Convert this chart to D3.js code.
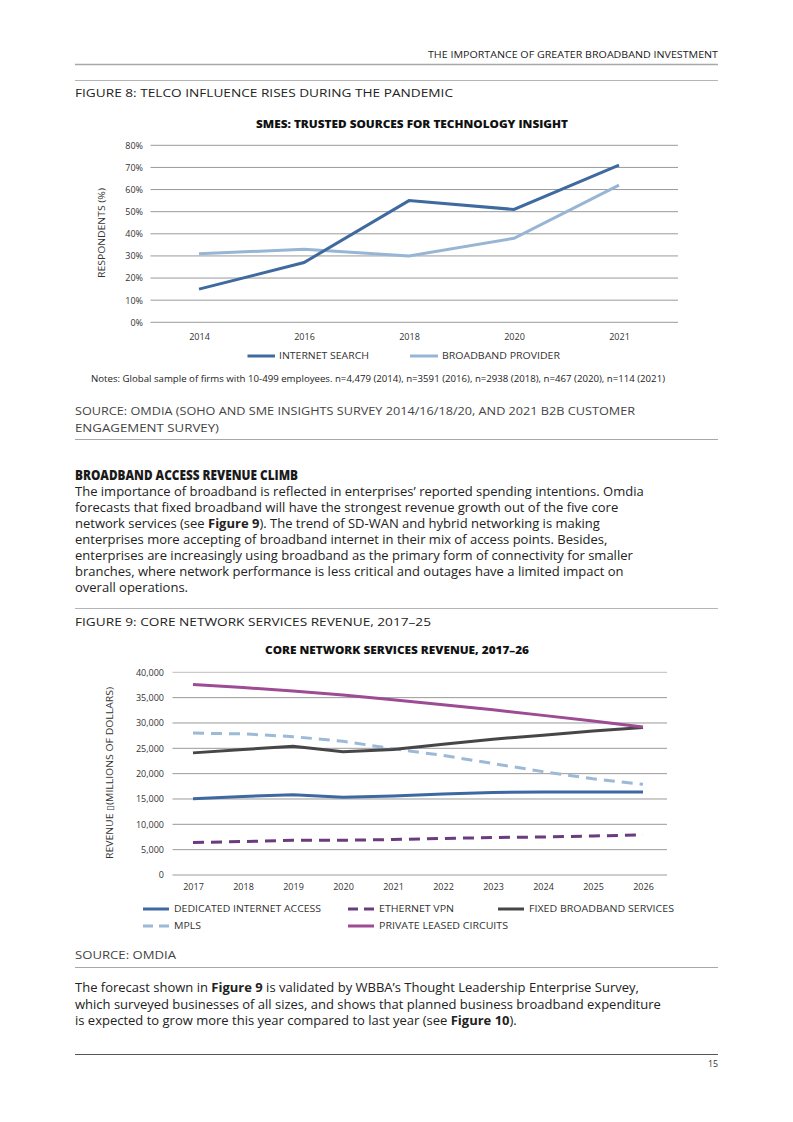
<!DOCTYPE html>
<html><head><meta charset="utf-8">
<script src="https://cdn.jsdelivr.net/npm/d3@7"></script>
<style>
html,body{margin:0;padding:0;background:#fff;}
svg{display:block;}
text{font-family:"Open Sans",sans-serif;}
</style></head>
<body>
<svg id="page" width="793" height="1122"></svg>
<script>
// ---------- DATA ----------
const fig8Years = ["2014","2016","2018","2020","2021"];
const internetSearch = [15, 27, 55, 51, 71];
const broadbandProvider = [31, 33, 30, 38, 62];
const fig8Ticks = [0,10,20,30,40,50,60,70,80];

const fig9Years = ["2017","2018","2019","2020","2021","2022","2023","2024","2025","2026"];
const dedicatedInternet = [15050, 15500, 15850, 15350, 15600, 16000, 16300, 16400, 16400, 16400];
const ethernetVPN = [6400, 6600, 6850, 6850, 7000, 7200, 7400, 7500, 7700, 7900];
const fixedBroadband = [24100, 24750, 25400, 24300, 24750, 25800, 26800, 27600, 28400, 29100];
const mpls = [28000, 27850, 27300, 26400, 24900, 23600, 22000, 20400, 19000, 17900];
const privateLeased = [37600, 37000, 36300, 35500, 34600, 33600, 32600, 31500, 30400, 29200];
const fig9Ticks = [0,5000,10000,15000,20000,25000,30000,35000,40000];

const para1 = [
  [["The importance of broadband is reflected in enterprises’ reported spending intentions. Omdia",false]],
  [["forecasts that fixed broadband will have the strongest revenue growth out of the five core",false]],
  [["network services (see ",false],["Figure 9",true],["). The trend of SD-WAN and hybrid networking is making",false]],
  [["enterprises more accepting of broadband internet in their mix of access points. Besides,",false]],
  [["enterprises are increasingly using broadband as the primary form of connectivity for smaller",false]],
  [["branches, where network performance is less critical and outages have a limited impact on",false]],
  [["overall operations.",false]]
];
const para2 = [
  [["The forecast shown in ",false],["Figure 9",true],[" is validated by WBBA’s Thought Leadership Enterprise Survey,",false]],
  [["which surveyed businesses of all sizes, and shows that planned business broadband expenditure",false]],
  [["is expected to grow more this year compared to last year (see ",false],["Figure 10",true],[").",false]]
];

// ---------- DRAW ----------
const svg = d3.select("#page");
const txt = "#222";
const L = 75, R = 718;

function rule(y, color, w){ svg.append("line").attr("x1",L).attr("x2",R).attr("y1",y).attr("y2",y).attr("stroke",color).attr("stroke-width",w); }
function label(x,y,s,size,opts={}){
  const t = svg.append("text").attr("x",x).attr("y",y).attr("font-size",size).attr("fill",opts.fill||txt).text(s);
  if(opts.anchor) t.attr("text-anchor",opts.anchor);
  if(opts.weight) t.attr("font-weight",opts.weight);
  if(opts.len) t.attr("textLength",opts.len).attr("lengthAdjust","spacingAndGlyphs");
  return t;
}
function para(lines, y0, lh){
  lines.forEach((ln,i)=>{
    const t = svg.append("text").attr("x",L).attr("y",y0+i*lh).attr("font-size",13).attr("fill",txt);
    ln.forEach(([s,b])=>{ t.append("tspan").attr("font-weight",b?700:400).text(s); });
  });
}

// header
label(R,58,"THE IMPORTANCE OF GREATER BROADBAND INVESTMENT",8.8,{anchor:"end",len:290});
rule(64.5,"#a8a8a8",1.6);
rule(80.5,"#b5b5b5",1);
label(L,97,"FIGURE 8: TELCO INFLUENCE RISES DURING THE PANDEMIC",11.2,{len:378});

// ----- Figure 8 chart -----
{
  const x = d3.scalePoint().domain(fig8Years).range([146.5,671.5]).padding(0.5);
  const y = d3.scaleLinear().domain([0,80]).range([322.3,145.3]);
  const g = svg.append("g");
  g.selectAll("line.grid").data(fig8Ticks).join("line")
    .attr("x1",150.5).attr("x2",678).attr("y1",d=>y(d)).attr("y2",d=>y(d))
    .attr("stroke","#9a9a9a").attr("stroke-width",1);
  const ya = d3.axisLeft(y).tickValues(fig8Ticks).tickFormat(d=>d+"%").tickSize(0).tickPadding(0);
  const yg = g.append("g").attr("transform","translate(143,0)").call(ya);
  yg.select(".domain").remove();
  yg.selectAll("text").attr("font-size",9).attr("fill","#333").attr("font-family","Open Sans").attr("dy","0.32em");
  const xa = d3.axisBottom(x).tickSize(0).tickPadding(0);
  const xg = g.append("g").attr("transform","translate(0,334)").call(xa);
  xg.select(".domain").remove();
  xg.selectAll("text").attr("font-size",9).attr("fill","#333").attr("font-family","Open Sans");
  const line = d3.line().x((d,i)=>x(fig8Years[i])).y(d=>y(d));
  g.append("path").datum(broadbandProvider).attr("d",line).attr("fill","none").attr("stroke","#97b5d4").attr("stroke-width",3);
  g.append("path").datum(internetSearch).attr("d",line).attr("fill","none").attr("stroke","#3f6a9f").attr("stroke-width",3);
  label(412,127.5,"SMES: TRUSTED SOURCES FOR TECHNOLOGY INSIGHT",9.6,{anchor:"middle",weight:800,len:312,fill:"#111"});
  svg.append("text").attr("transform","translate(105,233) rotate(-90)").attr("text-anchor","middle")
    .attr("font-size",9).attr("fill","#333").attr("textLength",90).attr("lengthAdjust","spacingAndGlyphs").text("RESPONDENTS (%)");
  // legend
  g.append("line").attr("x1",247.5).attr("x2",275).attr("y1",356).attr("y2",356).attr("stroke","#3f6a9f").attr("stroke-width",3);
  label(279,359.2,"INTERNET SEARCH",9,{fill:"#333",len:90});
  g.append("line").attr("x1",410).attr("x2",438).attr("y1",356).attr("y2",356).attr("stroke","#97b5d4").attr("stroke-width",3);
  label(442,359.2,"BROADBAND PROVIDER",9,{fill:"#333",len:118});
  label(91,382,"Notes: Global sample of firms with 10-499 employees. n=4,479 (2014), n=3591 (2016), n=2938 (2018), n=467 (2020), n=114 (2021)",8.2,{fill:"#222",len:574});
}

label(L,415,"SOURCE: OMDIA (SOHO AND SME INSIGHTS SURVEY 2014/16/18/20, AND 2021 B2B CUSTOMER",11.2,{fill:"#444",len:560});
label(L,432,"ENGAGEMENT SURVEY)",11.2,{fill:"#444",len:144});
rule(439.5,"#a8a8a8",1);

label(L,480,"BROADBAND ACCESS REVENUE CLIMB",13.5,{weight:800,fill:"#1a1a1a",len:223});
para(para1,496,16);
rule(608.5,"#b5b5b5",1);
label(L,626,"FIGURE 9: CORE NETWORK SERVICES REVENUE, 2017–25",11.2,{len:356});

// ----- Figure 9 chart -----
{
  const x = d3.scalePoint().domain(fig9Years).range([168,668]).padding(0.5);
  const y = d3.scaleLinear().domain([0,40000]).range([875,672.3]);
  const g = svg.append("g");
  g.selectAll("line.grid").data(fig9Ticks).join("line")
    .attr("x1",172.5).attr("x2",667).attr("y1",d=>y(d)).attr("y2",d=>y(d))
    .attr("stroke",d=>d===40000?"#bdbdbd":"#9a9a9a").attr("stroke-width",1);
  const ya = d3.axisLeft(y).tickValues(fig9Ticks).tickFormat(d3.format(",")).tickSize(0).tickPadding(0);
  const yg = g.append("g").attr("transform","translate(164,0)").call(ya);
  yg.select(".domain").remove();
  yg.selectAll("text").attr("font-size",9).attr("fill","#333").attr("font-family","Open Sans").attr("dy","0.32em");
  const xa = d3.axisBottom(x).tickSize(0).tickPadding(0);
  const xg = g.append("g").attr("transform","translate(0,884)").call(xa);
  xg.select(".domain").remove();
  xg.selectAll("text").attr("font-size",9).attr("fill","#333").attr("font-family","Open Sans");
  const line = d3.line().x((d,i)=>x(fig9Years[i])).y(d=>y(d));
  const series = [
    {v:ethernetVPN, c:"#6b3b7e", dash:"11,7"},
    {v:dedicatedInternet, c:"#3e69a0", dash:null},
    {v:mpls, c:"#9cb9d7", dash:"11,7"},
    {v:fixedBroadband, c:"#464646", dash:null},
    {v:privateLeased, c:"#9d4b93", dash:null}
  ];
  series.forEach(s=>{
    const p = g.append("path").datum(s.v).attr("d",line).attr("fill","none").attr("stroke",s.c).attr("stroke-width",3);
    if(s.dash) p.attr("stroke-dasharray",s.dash);
  });
  label(397,653.5,"CORE NETWORK SERVICES REVENUE, 2017–26",9.6,{anchor:"middle",weight:800,len:264,fill:"#111"});
  svg.append("text").attr("transform","translate(113,773) rotate(-90)").attr("text-anchor","middle")
    .attr("font-size",9).attr("fill","#333").attr("textLength",172).attr("lengthAdjust","spacingAndGlyphs").text("REVENUE \u25AF(MILLIONS OF DOLLARS)");
  // legend
  const leg = [
    {x:143, y:909, t:"DEDICATED INTERNET ACCESS", c:"#3e69a0", dash:null, len:147},
    {x:348, y:909, t:"ETHERNET VPN", c:"#6b3b7e", dash:"10,6", len:75},
    {x:498, y:909, t:"FIXED BROADBAND SERVICES", c:"#464646", dash:null, len:145},
    {x:143, y:926, t:"MPLS", c:"#9cb9d7", dash:"10,6", len:27},
    {x:348, y:926, t:"PRIVATE LEASED CIRCUITS", c:"#9d4b93", dash:null, len:129}
  ];
  leg.forEach(d=>{
    const l = g.append("line").attr("x1",d.x).attr("x2",d.x+26).attr("y1",d.y).attr("y2",d.y).attr("stroke",d.c).attr("stroke-width",3);
    if(d.dash) l.attr("stroke-dasharray",d.dash);
    label(d.x+31,d.y+3.2,d.t,9,{fill:"#333",len:d.len});
  });
}

label(L,959,"SOURCE: OMDIA",11.2,{fill:"#444",len:101});
rule(967.5,"#a8a8a8",1);
para(para2,992,16.5);
rule(1054.5,"#555",1);
label(R,1067,"15",8.8,{anchor:"end",fill:"#333"});
</script>
</body></html>
